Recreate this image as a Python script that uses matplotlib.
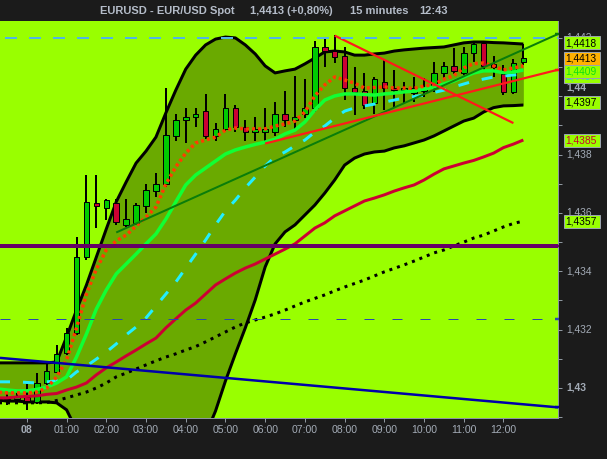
import numpy as np
import pandas as pd
import matplotlib
matplotlib.use("Agg")
import matplotlib.pyplot as plt
from matplotlib import font_manager as fm
from matplotlib.patches import Rectangle
from matplotlib.lines import Line2D
from matplotlib.transforms import blended_transform_factory as btf, IdentityTransform, offset_copy

# ---------------- data ----------------
times = pd.date_range("2009-10-07 23:30", periods=53, freq="15min")

opens = [1.42969, 1.42962, 1.42969, 1.42952, 1.43017, 1.43055, 1.43120, 1.43189, 1.43449, 1.43634,
         1.43617, 1.43634, 1.43559, 1.43566, 1.43624, 1.43675, 1.43699, 1.43864, 1.43919, 1.43929,
         1.43949, 1.43864, 1.43888, 1.43960, 1.43895, 1.43877, 1.43877, 1.43877, 1.43939, 1.43919,
         1.43939, 1.43960, 1.44169, 1.44155, 1.44138, 1.44028, 1.44018, 1.43977, 1.44049, 1.44028,
         1.44021, 1.44011, 1.44018, 1.44035, 1.44080, 1.44104, 1.44080, 1.44148, 1.44183, 1.44111,
         1.44076, 1.44015, 1.44117]
highs = [1.42986, 1.42983, 1.43014, 1.43051, 1.43086, 1.43147, 1.43206, 1.43518, 1.43730, 1.43730,
         1.43648, 1.43648, 1.43648, 1.43634, 1.43699, 1.43737, 1.44028, 1.43939, 1.43960, 1.43960,
         1.44008, 1.43908, 1.44008, 1.43970, 1.43919, 1.43929, 1.43960, 1.43980, 1.44018, 1.44069,
         1.44059, 1.44189, 1.44196, 1.44210, 1.44169, 1.44100, 1.44080, 1.44066, 1.44128, 1.44090,
         1.44049, 1.44066, 1.44063, 1.44117, 1.44117, 1.44165, 1.44169, 1.44186, 1.44186, 1.44138,
         1.44107, 1.44128, 1.44179]
lows = [1.42942, 1.42949, 1.42925, 1.42945, 1.43010, 1.43051, 1.43113, 1.43182, 1.43439, 1.43548,
        1.43576, 1.43559, 1.43552, 1.43559, 1.43600, 1.43655, 1.43689, 1.43847, 1.43840, 1.43895,
        1.43853, 1.43847, 1.43877, 1.43877, 1.43847, 1.43847, 1.43836, 1.43864, 1.43895, 1.43884,
        1.43925, 1.43946, 1.44100, 1.44114, 1.43987, 1.43936, 1.43956, 1.43939, 1.43953, 1.43960,
        1.43977, 1.43980, 1.43997, 1.44015, 1.44063, 1.44076, 1.44066, 1.44117, 1.44090, 1.44066,
        1.44004, 1.44008, 1.44107]
closes = [1.42962, 1.42969, 1.42955, 1.43017, 1.43058, 1.43117, 1.43189, 1.43449, 1.43638, 1.43624,
          1.43644, 1.43569, 1.43579, 1.43627, 1.43679, 1.43699, 1.43867, 1.43919, 1.43929, 1.43939,
          1.43864, 1.43888, 1.43960, 1.43895, 1.43877, 1.43888, 1.43888, 1.43939, 1.43919, 1.43929,
          1.43960, 1.44169, 1.44155, 1.44135, 1.44028, 1.44015, 1.43970, 1.44059, 1.44028, 1.44021,
          1.44028, 1.44028, 1.44025, 1.44080, 1.44104, 1.44087, 1.44148, 1.44179, 1.44104, 1.44100,
          1.44015, 1.44114, 1.44130]

# indicator series: one value per bar, starting one bar before the first candle (23:15)
bb_upper = [1.43086, 1.43086, 1.43086, 1.43086, 1.43086, 1.43086, 1.43089, 1.43175, 1.43267, 1.43353,
            1.43449, 1.43545, 1.43638, 1.43706, 1.43771, 1.43812, 1.43860, 1.43943, 1.44021, 1.44093,
            1.44141, 1.44176, 1.44196, 1.44203, 1.44200, 1.44176, 1.44145, 1.44104, 1.44080, 1.44087,
            1.44093, 1.44111, 1.44131, 1.44152, 1.44155, 1.44152, 1.44141, 1.44141, 1.44145, 1.44148,
            1.44155, 1.44159, 1.44162, 1.44165, 1.44167, 1.44169, 1.44176, 1.44183, 1.44186, 1.44186,
            1.44184, 1.44183, 1.44181, 1.44179]
bb_lower = [1.42959, 1.42955, 1.42955, 1.42952, 1.42952, 1.42952, 1.42949, 1.42925, 1.42856, 1.42812,
            1.42757, 1.42716, 1.42678, 1.42657, 1.42650, 1.42654, 1.42668, 1.42692, 1.42719, 1.42746,
            1.42788, 1.42839, 1.42921, 1.43024, 1.43117, 1.43206, 1.43302, 1.43415, 1.43494, 1.43535,
            1.43559, 1.43593, 1.43627, 1.43668, 1.43713, 1.43764, 1.43788, 1.43802, 1.43809, 1.43812,
            1.43823, 1.43830, 1.43840, 1.43850, 1.43864, 1.43881, 1.43898, 1.43915, 1.43925, 1.43946,
            1.43961, 1.43967, 1.43968, 1.43970]
bb_mid = [1.43021, 1.43021, 1.43021, 1.43019, 1.43017, 1.43021, 1.43024, 1.43027, 1.43055, 1.43075,
          1.43099, 1.43123, 1.43151, 1.43182, 1.43209, 1.43240, 1.43281, 1.43322, 1.43363, 1.43411,
          1.43459, 1.43507, 1.43559, 1.43607, 1.43644, 1.43686, 1.43723, 1.43761, 1.43792, 1.43809,
          1.43830, 1.43850, 1.43877, 1.43898, 1.43925, 1.43949, 1.43960, 1.43967, 1.43973, 1.43980,
          1.43987, 1.43994, 1.43999, 1.44004, 1.44013, 1.44021, 1.44032, 1.44042, 1.44052, 1.44059,
          1.44066, 1.44069, 1.44073, 1.44075]
ma_fast = [1.42986, 1.42983, 1.42983, 1.42983, 1.42986, 1.43000, 1.43038, 1.43096, 1.43206, 1.43322,
           1.43408, 1.43473, 1.43504, 1.43524, 1.43555, 1.43586, 1.43620, 1.43699, 1.43758, 1.43805,
           1.43840, 1.43850, 1.43860, 1.43884, 1.43891, 1.43888, 1.43888, 1.43888, 1.43898, 1.43905,
           1.43915, 1.43946, 1.44001, 1.44039, 1.44066, 1.44056, 1.44045, 1.44028, 1.44030, 1.44032,
           1.44028, 1.44028, 1.44027, 1.44035, 1.44040, 1.44059, 1.44071, 1.44097, 1.44112, 1.44114,
           1.44104, 1.44090, 1.44097, 1.44104]
ma_green = [1.42997, 1.42993, 1.42990, 1.42990, 1.42995, 1.43003, 1.43017, 1.43038, 1.43106, 1.43185,
            1.43271, 1.43336, 1.43391, 1.43425, 1.43459, 1.43494, 1.43528, 1.43579, 1.43638, 1.43696,
            1.43730, 1.43754, 1.43778, 1.43802, 1.43816, 1.43826, 1.43835, 1.43843, 1.43853, 1.43871,
            1.43884, 1.43912, 1.43953, 1.43987, 1.44001, 1.44008, 1.44008, 1.44006, 1.44004, 1.44008,
            1.44011, 1.44015, 1.44018, 1.44025, 1.44032, 1.44042, 1.44052, 1.44066, 1.44080, 1.44087,
            1.44087, 1.44081, 1.44083, 1.44090]
ma_crimson = [1.42966, 1.42966, 1.42969, 1.42971, 1.42973, 1.42978, 1.42981, 1.42993, 1.43003, 1.43017,
              1.43045, 1.43069, 1.43089, 1.43110, 1.43130, 1.43151, 1.43171, 1.43206, 1.43237, 1.43267,
              1.43291, 1.43322, 1.43353, 1.43374, 1.43394, 1.43411, 1.43425, 1.43442, 1.43459, 1.43476,
              1.43494, 1.43521, 1.43548, 1.43566, 1.43590, 1.43607, 1.43624, 1.43641, 1.43651, 1.43662,
              1.43675, 1.43686, 1.43696, 1.43713, 1.43733, 1.43751, 1.43761, 1.43771, 1.43780, 1.43792,
              1.43805, 1.43824, 1.43836, 1.43850]
ma_slow = [1.42949, 1.42949, 1.42949, 1.42949, 1.42949, 1.42950, 1.42957, 1.42966, 1.42976, 1.42986,
           1.43000, 1.43017, 1.43038, 1.43051, 1.43065, 1.43079, 1.43093, 1.43106, 1.43117, 1.43130,
           1.43142, 1.43158, 1.43175, 1.43192, 1.43209, 1.43223, 1.43233, 1.43243, 1.43254, 1.43267,
           1.43281, 1.43295, 1.43307, 1.43319, 1.43333, 1.43346, 1.43358, 1.43370, 1.43384, 1.43398,
           1.43410, 1.43422, 1.43435, 1.43449, 1.43463, 1.43473, 1.43487, 1.43500, 1.43514, 1.43524,
           1.43538, 1.43552, 1.43564, 1.43572]

# trend lines: (bar index, price) anchors
trend_green = [(11, 1.43533), (52, 1.44160)]
trend_red_up = [(26, 1.43838), (52, 1.44061)]
trend_red_down = [(33, 1.44208), (51, 1.43908)]
trend_blue = [(-1, 1.43104), (52, 1.42944)]

# horizontal levels
level_lightblue = 1.44201
level_purple = 1.43486
level_bluedash = 1.43235

title_parts = ["EURUSD - EUR/USD Spot", "1,4413 (+0,80%)", "15 minutes", "12:43"]

# ---------------- style ----------------
W, H = 607, 459
DARK = "#1b1b1b"
LIME = "#99ff00"
BAND = "#6aaa00"
TXT = "#a3abb6"
GRID = "#8e979f"
plt.rcParams["lines.scale_dashes"] = False
plt.rcParams["lines.solid_capstyle"] = "butt"
plt.rcParams["lines.dash_capstyle"] = "butt"

names = {f.name for f in fm.fontManager.ttflist}
NARROW = "Liberation Sans Narrow" in names
FONT = ["Liberation Sans Narrow", "Liberation Sans", "DejaVu Sans"] if NARROW else ["Liberation Sans", "DejaVu Sans"]
K = 1.0 if NARROW else 0.82
plt.rcParams["font.family"] = FONT

PX = 0.72  # points per pixel at dpi 100

fig = plt.figure(figsize=(W / 100, H / 100), dpi=100, facecolor=DARK)
ax = fig.add_axes([0, 1 - 418 / H, 558 / W, (418 - 21) / H])
ax.set_facecolor(LIME)
ax.set_xlim(-0.705, 55.49)
ax.set_ylim(1.42897, 1.44258)

n = len(closes)
idx = np.arange(n)
ind_x = np.arange(-1, n)
o, h, l, c = map(np.array, (opens, highs, lows, closes))

# Bollinger band fill and edges
ax.fill_between(ind_x, bb_lower, bb_upper, color=BAND, lw=0, zorder=1)
ax.plot(ind_x, bb_upper, color="black", lw=3 * PX, zorder=2)
ax.plot(ind_x, bb_lower, color="black", lw=3 * PX, zorder=2)

# candles
up = c >= o
ax.vlines(idx, l, h, color="black", lw=2 * PX, zorder=3)
ax.bar(idx, np.abs(c - o), bottom=np.minimum(o, c), width=0.56,
       color=np.where(up, "#00cc00", "#cc0033"), edgecolor="black", linewidth=1 * PX, zorder=4)

# moving averages
ax.plot(ind_x, ma_crimson, color="#cc0033", lw=3 * PX, zorder=5)
ax.plot(ind_x, ma_slow, color="black", lw=3 * PX, ls=(0, (3 * PX, 5 * PX)), zorder=5)
ax.plot(ind_x, bb_mid, color="#22eeff", lw=3 * PX, ls=(0, (11 * PX, 13 * PX)), zorder=5)
ax.plot(ind_x, ma_green, color="#11ff33", lw=3.5 * PX, zorder=6)
ax.plot(ind_x, ma_fast, color="#ff3d00", lw=3.5 * PX, ls=(0, (3 * PX, 3 * PX)), zorder=6)

# trend lines
x_right = ax.get_xlim()[1]
x_left = ax.get_xlim()[0]


def seg(anchors, extend_left=False, extend_right=False):
    (x0, y0), (x1, y1) = anchors
    s = (y1 - y0) / (x1 - x0)
    xa = x_left if extend_left else x0
    xb = x_right if extend_right else x1
    return [xa, xb], [y0 + s * (xa - x0), y0 + s * (xb - x0)]


g_x, g_y = seg(trend_green, extend_right=True)
r_x, r_y = seg(trend_red_up, extend_right=True)
b_x, b_y = seg(trend_blue, extend_left=True, extend_right=True)
ax.plot(g_x, g_y, color="#0a7d0a", lw=2 * PX, zorder=7)
ax.plot(r_x, r_y, color="#ff1a1a", lw=2.2 * PX, zorder=7)
ax.plot(*seg(trend_red_down), color="#ff1a1a", lw=2.2 * PX, zorder=7)
ax.plot(b_x, b_y, color="#0000aa", lw=2.5 * PX, zorder=7)

# horizontal levels
ax.axhline(level_lightblue, color="#50b4e6", lw=2 * PX, ls=(19 * PX, (12 * PX, 12 * PX)), zorder=7)
ax.axhline(level_purple, color="#660066", lw=4 * PX, zorder=7)
ax.axhline(level_bluedash, color="#2a46b0", lw=1 * PX, ls=(0, (10 * PX, 18 * PX)), zorder=7)

# axes frame / ticks
for s in ("left", "top"):
    ax.spines[s].set_visible(False)
for s in ("right", "bottom"):
    ax.spines[s].set_color(GRID)
    ax.spines[s].set_linewidth(1 * PX)

ymaj = np.round(np.arange(1.430, 1.4425, 0.002), 3)
ymin = np.round(np.arange(1.429, 1.4425, 0.001), 3)
ax.yaxis.tick_right()
ax.set_yticks(ymaj)
ax.set_yticks(ymin, minor=True)
ax.tick_params(axis="y", which="both", direction="out", length=4 * PX, width=1 * PX, color=GRID,
               labelright=False, labelleft=False, left=False)

hour_idx = [i for i, t in enumerate(times) if t.minute == 0]
ax.set_xticks(hour_idx)
ax.tick_params(axis="x", which="both", direction="out", length=4 * PX, width=1 * PX, color=GRID,
               labelbottom=False)

ytr = btf(fig.transFigure, ax.transData)
for v in ymaj:
    lab = ("%.3f" % v).rstrip("0").replace(".", ",")
    bold = abs(v * 100 - round(v * 100)) < 1e-6
    tr = ytr
    if abs(v - 1.44) < 1e-9:  # label lifted clear of the value box below it
        tr = offset_copy(ytr, fig=fig, y=9, units="dots")
    ax.text(566 / W, v, lab, transform=tr, ha="left", va="center", color=TXT,
            fontsize=9 * K, fontweight="bold" if bold else "normal", zorder=10)

xtr = btf(ax.transData, fig.transFigure)
for i in hour_idx:
    t = times[i]
    if t.hour == 0:
        lab, wt = t.strftime("%d"), "bold"
    else:
        lab, wt = t.strftime("%H:%M"), "normal"
    ax.text(i, 1 - 430 / H, lab, transform=xtr, ha="center", va="center", color=TXT,
            fontsize=9.2 * K, fontweight=wt)

# title
for txt, xp in zip(title_parts, [100, 250, 350, 419]):
    fig.text(xp / W, 1 - 10.5 / H, txt, ha="left", va="center", color="#b4bcc8",
             fontsize=9.8 * K, fontweight="bold")

fig.canvas.draw()


def ypx(v):
    return ax.transData.transform((0, v))[1]


# small colour marks on the right edge for the straight lines
for v, col in [(g_y[1], "#0a7d0a"), (r_y[1], "#ff1a1a"), (level_purple, "#660066"),
               (level_bluedash, "#2a46b0"), (b_y[1], "#0000aa")]:
    yy = ypx(v)
    fig.add_artist(Line2D([555, 559], [yy, yy], transform=IdentityTransform(), color=col,
                          lw=2.5 * PX, zorder=15))

# value boxes on right axis (drawn bottom to top of the stack)
boxes = [
    (bb_mid[-1], "#22ccee", LIME, +2.0),
    (bb_upper[-1], "black", LIME, -1.3),
    (closes[-1], "black", "#ffb000", 0.0),
    (ma_green[-1], "#11dd11", LIME, +1.5),
    (bb_lower[-1], "black", LIME, -2.5),
    (ma_crimson[-1], "#cc0033", LIME, +0.5),
    (ma_slow[-1], "black", LIME, 0.0),
]
for k, (v, tc, fc, off) in enumerate(boxes):
    yc = ypx(v) - off
    r = Rectangle((564, yc - 6.5), 35.5, 13, transform=IdentityTransform(), facecolor=fc,
                  edgecolor="#9aa3ad", linewidth=1 * PX, zorder=20 + 2 * k)
    fig.add_artist(r)
    fig.text(565.5 / W, (yc - 0.3) / H, ("%.4f" % v).replace(".", ","), ha="left", va="center",
             color=tc, fontsize=9 * K, zorder=21 + 2 * k)

fig.savefig("out.png", dpi=100, facecolor=DARK)
